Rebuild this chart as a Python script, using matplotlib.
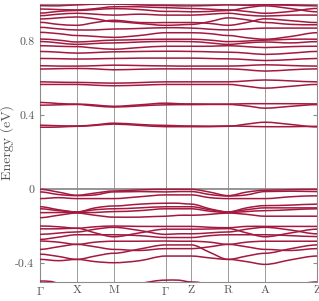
import numpy as np
import matplotlib
matplotlib.use("Agg")
import matplotlib.pyplot as plt
from matplotlib.path import Path
from matplotlib.patches import PathPatch

plt.rcParams['mathtext.fontset'] = 'cm'
plt.rcParams['font.family'] = ['cmr10', 'DejaVu Serif']
plt.rcParams['axes.unicode_minus'] = False

# k-path
kpoint_labels = [r'$\Gamma$', 'X', 'M', r'$\Gamma$', 'Z', 'R', 'A', 'Z']
segment_lengths = [1.0, 1.0, 1.414, 0.7, 1.0, 1.0, 1.414]

# Band energies (eV) at nodes: G, mid, X, mid, M, mid, G, mid, Z, mid, R, mid, A, mid, Z
valence_bands = [
    [0.000, -0.015, -0.032, -0.020, -0.009, -0.003, 0.000, 0.000, 0.000, -0.015, -0.034, -0.015, -0.005, -0.002, 0.000],
    [-0.014, -0.028, -0.034, -0.030, -0.014, -0.012, -0.014, -0.012, -0.012, -0.028, -0.036, -0.030, -0.012, -0.010, -0.012],
    [-0.050, -0.045, -0.050, -0.050, -0.050, -0.040, -0.030, -0.030, -0.030, -0.045, -0.050, -0.050, -0.050, -0.040, -0.035],
    [-0.094, -0.110, -0.122, -0.100, -0.090, -0.080, -0.075, -0.075, -0.080, -0.105, -0.122, -0.100, -0.088, -0.085, -0.080],
    [-0.105, -0.115, -0.122, -0.110, -0.105, -0.100, -0.094, -0.094, -0.094, -0.110, -0.122, -0.110, -0.100, -0.100, -0.100],
    [-0.126, -0.125, -0.125, -0.125, -0.120, -0.115, -0.105, -0.105, -0.105, -0.118, -0.125, -0.120, -0.115, -0.110, -0.105],
    [-0.153, -0.140, -0.128, -0.140, -0.150, -0.150, -0.145, -0.140, -0.140, -0.135, -0.128, -0.135, -0.145, -0.145, -0.145],
    [-0.198, -0.202, -0.210, -0.202, -0.198, -0.200, -0.200, -0.200, -0.200, -0.205, -0.207, -0.200, -0.200, -0.200, -0.200],
    [-0.213, -0.213, -0.210, -0.235, -0.256, -0.235, -0.215, -0.215, -0.215, -0.214, -0.212, -0.235, -0.256, -0.235, -0.215],
    [-0.243, -0.236, -0.230, -0.215, -0.205, -0.222, -0.243, -0.240, -0.240, -0.235, -0.230, -0.215, -0.205, -0.220, -0.240],
    [-0.270, -0.258, -0.245, -0.245, -0.245, -0.250, -0.260, -0.260, -0.260, -0.250, -0.245, -0.245, -0.245, -0.250, -0.255],
    [-0.279, -0.285, -0.297, -0.285, -0.280, -0.280, -0.279, -0.280, -0.280, -0.285, -0.297, -0.285, -0.280, -0.280, -0.280],
    [-0.324, -0.310, -0.297, -0.310, -0.324, -0.330, -0.320, -0.320, -0.320, -0.310, -0.297, -0.310, -0.324, -0.330, -0.320],
    [-0.350, -0.362, -0.378, -0.360, -0.345, -0.322, -0.300, -0.300, -0.300, -0.340, -0.378, -0.360, -0.345, -0.320, -0.300],
    [-0.378, -0.385, -0.378, -0.390, -0.396, -0.385, -0.360, -0.360, -0.360, -0.370, -0.378, -0.390, -0.405, -0.380, -0.360],
    [-0.495, -0.510, -0.600, -0.600, -0.550, -0.510, -0.490, -0.490, -0.500, -0.520, -0.600, -0.600, -0.550, -0.520, -0.500],
]

conduction_bands = [
    [0.335, 0.336, 0.340, 0.345, 0.352, 0.345, 0.338, 0.338, 0.338, 0.338, 0.340, 0.352, 0.362, 0.350, 0.337],
    [0.346, 0.343, 0.342, 0.348, 0.357, 0.350, 0.345, 0.343, 0.342, 0.341, 0.342, 0.340, 0.338, 0.338, 0.340],
    [0.454, 0.456, 0.458, 0.450, 0.444, 0.450, 0.456, 0.457, 0.457, 0.458, 0.458, 0.450, 0.438, 0.448, 0.457],
    [0.469, 0.463, 0.460, 0.455, 0.448, 0.456, 0.465, 0.462, 0.461, 0.460, 0.460, 0.462, 0.462, 0.462, 0.461],
    [0.566, 0.566, 0.566, 0.562, 0.559, 0.562, 0.566, 0.566, 0.566, 0.566, 0.566, 0.556, 0.546, 0.556, 0.566],
    [0.580, 0.578, 0.577, 0.575, 0.573, 0.576, 0.580, 0.580, 0.580, 0.580, 0.580, 0.585, 0.590, 0.585, 0.580],
    [0.649, 0.651, 0.652, 0.650, 0.645, 0.648, 0.650, 0.650, 0.650, 0.650, 0.650, 0.645, 0.638, 0.645, 0.650],
    [0.667, 0.665, 0.665, 0.667, 0.670, 0.668, 0.666, 0.665, 0.665, 0.665, 0.665, 0.668, 0.672, 0.668, 0.665],
    [0.706, 0.705, 0.703, 0.704, 0.706, 0.708, 0.708, 0.708, 0.708, 0.706, 0.704, 0.700, 0.695, 0.700, 0.706],
    [0.744, 0.740, 0.735, 0.738, 0.742, 0.744, 0.745, 0.745, 0.744, 0.742, 0.740, 0.735, 0.728, 0.735, 0.744],
    [0.775, 0.772, 0.770, 0.762, 0.756, 0.765, 0.772, 0.772, 0.772, 0.772, 0.775, 0.770, 0.765, 0.770, 0.772],
    [0.798, 0.790, 0.782, 0.787, 0.790, 0.795, 0.798, 0.798, 0.797, 0.790, 0.782, 0.790, 0.795, 0.790, 0.797],
    [0.811, 0.805, 0.795, 0.800, 0.805, 0.808, 0.810, 0.810, 0.810, 0.805, 0.797, 0.800, 0.805, 0.810, 0.810],
    [0.847, 0.840, 0.830, 0.825, 0.820, 0.830, 0.845, 0.845, 0.845, 0.840, 0.830, 0.818, 0.810, 0.825, 0.845],
    [0.874, 0.866, 0.860, 0.860, 0.865, 0.868, 0.872, 0.872, 0.870, 0.864, 0.860, 0.865, 0.870, 0.870, 0.870],
    [0.901, 0.890, 0.885, 0.900, 0.912, 0.900, 0.900, 0.900, 0.900, 0.895, 0.885, 0.900, 0.920, 0.910, 0.900],
    [0.919, 0.925, 0.930, 0.920, 0.905, 0.895, 0.885, 0.887, 0.890, 0.905, 0.925, 0.915, 0.900, 0.890, 0.888],
    [0.937, 0.945, 0.950, 0.945, 0.940, 0.945, 0.940, 0.940, 0.940, 0.945, 0.950, 0.940, 0.935, 0.940, 0.940],
    [0.951, 0.960, 0.965, 0.970, 0.975, 0.970, 0.960, 0.960, 0.958, 0.960, 0.965, 0.980, 0.990, 0.975, 0.958],
    [0.973, 0.970, 0.968, 0.975, 0.985, 0.985, 0.980, 0.978, 0.976, 0.972, 0.968, 0.960, 0.950, 0.960, 0.976],
    [0.991, 0.990, 0.995, 1.000, 1.000, 0.995, 0.992, 0.990, 0.990, 0.992, 0.995, 0.993, 0.995, 0.993, 0.990],
    [1.005, 1.015, 1.030, 1.020, 1.010, 1.005, 1.003, 1.003, 1.004, 1.010, 1.020, 1.005, 0.998, 1.000, 1.004],
]

yticks = [-0.4, 0, 0.4, 0.8]
ytick_labels = ['-0.4', '0', '0.4', '0.8']

band_color = '#A3193F'
grid_color = '#8c8c8c'
text_color = '#555555'

knodes = np.concatenate([[0.0], np.cumsum(segment_lengths)])
kall = []
for i in range(len(segment_lengths)):
    kall.append(knodes[i])
    kall.append(0.5 * (knodes[i] + knodes[i + 1]))
kall.append(knodes[-1])
kall = np.array(kall)

fig = plt.figure(figsize=(3.19, 3.01), dpi=100)
ax = fig.add_axes([40 / 319, 19 / 301, 277 / 319, 278 / 301])


def band_path(x, y):
    n = len(x)
    slopes = np.zeros(n)
    for i in range(1, n - 1, 2):
        slopes[i] = (y[i + 1] - y[i - 1]) / (x[i + 1] - x[i - 1])
    verts = [(x[0], y[0])]
    codes = [Path.MOVETO]
    for i in range(n - 1):
        h = x[i + 1] - x[i]
        verts += [(x[i] + h / 3, y[i] + slopes[i] * h / 3),
                  (x[i + 1] - h / 3, y[i + 1] - slopes[i + 1] * h / 3),
                  (x[i + 1], y[i + 1])]
        codes += [Path.CURVE4] * 3
    return Path(verts, codes)


ax.axhline(0, color=grid_color, lw=1.3, zorder=1)
for kx in knodes[1:-1]:
    ax.axvline(kx, color=grid_color, lw=0.6, zorder=1)

for band in valence_bands + conduction_bands:
    p = band_path(kall, np.array(band))
    ax.add_patch(PathPatch(p, facecolor='none', edgecolor=band_color, lw=1.1,
                           zorder=3, capstyle='round'))

ax.set_xlim(knodes[0], knodes[-1])
ax.set_ylim(-0.5, 1.0)
ax.set_xticks(knodes)
ax.set_xticklabels(kpoint_labels, fontsize=8.5, color=text_color)
ax.set_yticks(yticks)
ax.set_yticklabels(ytick_labels, fontsize=8.5, color=text_color)
ax.tick_params(axis='x', length=0, pad=2.5)
ax.tick_params(axis='y', direction='in', length=3, right=True, color=grid_color, pad=4)
ax.set_ylabel('Energy (eV)', fontsize=10, color=text_color, labelpad=1)
for s in ax.spines.values():
    s.set_color(grid_color)
    s.set_linewidth(0.8)

fig.savefig('out.png', dpi=100)
